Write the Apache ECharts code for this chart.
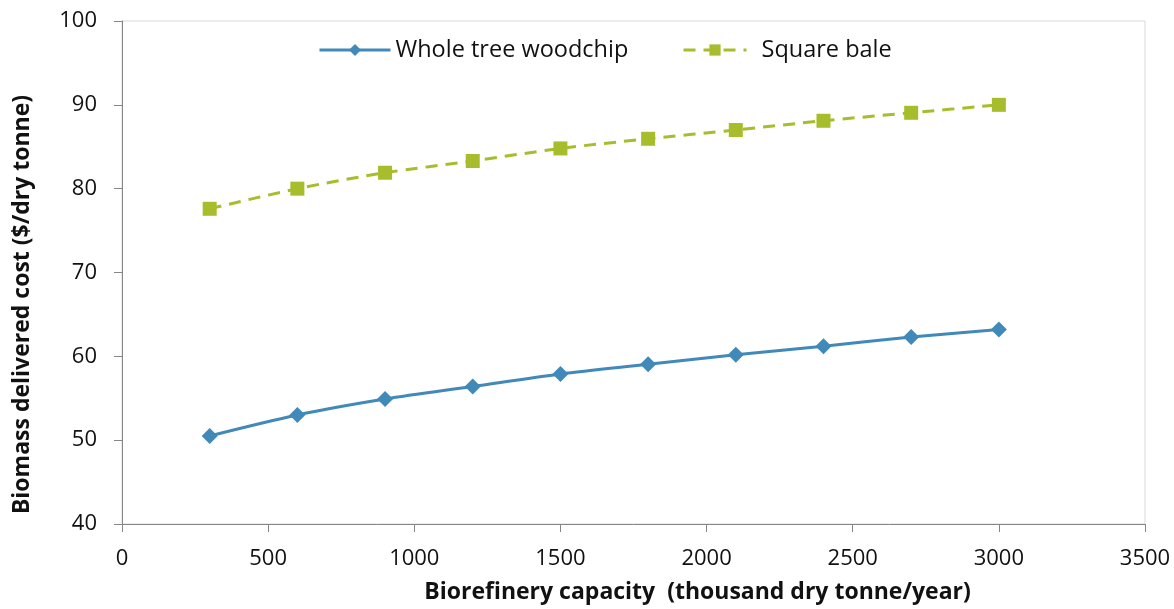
<!DOCTYPE html>
<html>
<head>
<meta charset="utf-8">
<script src="https://cdn.jsdelivr.net/npm/echarts@6/dist/echarts.min.js"></script>
<style>html,body{margin:0;padding:0;background:#fff}#c{width:1174px;height:609px}</style>
</head>
<body>
<div id="c"></div>
<script>
const capacity = [300, 600, 900, 1200, 1500, 1800, 2100, 2400, 2700, 3000];
const woodchip = [50.5, 53.0, 54.9, 56.4, 57.9, 59.05, 60.2, 61.2, 62.3, 63.2];
const squareBale = [77.6, 80.0, 81.9, 83.3, 84.8, 85.95, 87.0, 88.1, 89.05, 90.0];
const seriesNames = ['Whole tree woodchip', 'Square bale'];

const font = '"Open Sans", "Liberation Sans", sans-serif';
const blue = '#4189B8';
const green = '#A8BD2B';
const chart = echarts.init(document.getElementById('c'));
chart.setOption({
  animation: false,
  textStyle: { fontFamily: font },
  grid: { left: 122, right: 29, top: 21, bottom: 84, show: true, borderColor: '#d9d9d9', borderWidth: 1 },
  legend: [
    {
      top: 33, left: 313,
      itemWidth: 71, itemHeight: 15,
      lineStyle: { width: 3 },
      textStyle: { fontSize: 23.5, color: '#111', fontFamily: font },
      data: [seriesNames[0]]
    },
    {
      top: 33, left: 677,
      itemWidth: 63, itemHeight: 14,
      lineStyle: { width: 3 },
      textStyle: { fontSize: 23.5, color: '#111', fontFamily: font, padding: [0, 0, 0, 10] },
      data: [seriesNames[1]]
    }
  ],
  xAxis: {
    type: 'value', min: 0, max: 3500, interval: 500,
    name: 'Biorefinery capacity  (thousand dry tonne/year)',
    nameLocation: 'middle', nameGap: 57,
    nameTextStyle: { fontSize: 23, fontWeight: 'bold', color: '#111', fontFamily: font, padding: [0, 0, 0, 128] },
    axisLine: { lineStyle: { color: '#868686' } },
    axisTick: { show: true, inside: false, length: 8, lineStyle: { color: '#868686' } },
    axisLabel: { fontSize: 22, color: '#111', margin: 24, formatter: v => String(v) },
    splitLine: { show: false }
  },
  yAxis: {
    type: 'value', min: 40, max: 100, interval: 10,
    name: 'Biomass delivered cost ($/dry tonne)',
    nameLocation: 'middle', nameGap: 88,
    nameTextStyle: { fontSize: 23, fontWeight: 'bold', color: '#111', fontFamily: font, padding: [0, 64, 0, 0] },
    axisLine: { show: true, lineStyle: { color: '#868686' } },
    axisTick: { show: true, inside: false, length: 8, lineStyle: { color: '#868686' } },
    axisLabel: { fontSize: 22, color: '#111', margin: 25, formatter: v => String(v) },
    splitLine: { show: false }
  },
  series: [
    {
      name: seriesNames[0], type: 'line', smooth: 0.3,
      data: capacity.map((x, i) => [x, woodchip[i]]),
      symbol: 'diamond', symbolSize: 16,
      lineStyle: { color: blue, width: 3 },
      itemStyle: { color: blue }
    },
    {
      name: seriesNames[1], type: 'line', smooth: 0.3,
      data: capacity.map((x, i) => [x, squareBale[i]]),
      symbol: 'rect', symbolSize: 14,
      lineStyle: { color: green, width: 3, type: [12, 8] },
      itemStyle: { color: green }
    }
  ]
});
</script>
</body>
</html>
